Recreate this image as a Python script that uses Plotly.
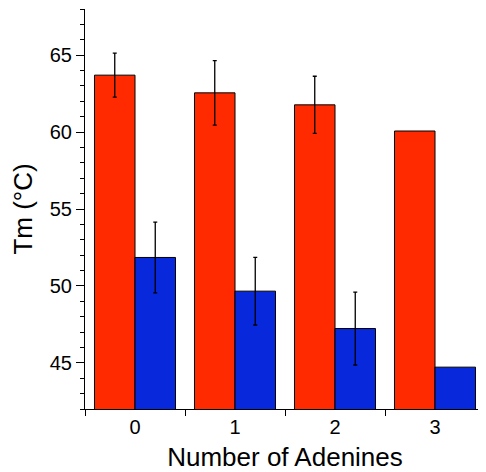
import plotly.graph_objects as go

categories = ["0", "1", "2", "3"]
red_values = [63.7, 62.55, 61.77, 60.07]
blue_values = [51.85, 49.66, 47.23, 44.72]
# error bars exist only for the first three categories
red_errors = [1.43, 2.1, 1.86]
blue_errors = [2.3, 2.2, 2.37]

font_family = "Liberation Sans, Arial, Helvetica, sans-serif"

fig = go.Figure()
fig.add_trace(go.Bar(
    x=categories, y=red_values, name="red",
    marker=dict(color="rgb(255,42,0)", line=dict(color="black", width=1)),
    error_y=dict(type="data", array=red_errors, visible=True,
                 color="black", thickness=1.3, width=2),
))
fig.add_trace(go.Bar(
    x=categories, y=blue_values, name="blue",
    marker=dict(color="rgb(8,40,220)", line=dict(color="black", width=1)),
    error_y=dict(type="data", array=blue_errors, visible=True,
                 color="black", thickness=1.3, width=2),
))

# page body has an 8px margin; size the figure to fill the rest of the window
fig.update_layout(
    width=478, height=464,
    margin=dict(l=77, r=1, t=1, b=63),
    barmode="group", bargap=0.19, bargroupgap=0,
    showlegend=False,
    plot_bgcolor="white", paper_bgcolor="white",
    font=dict(family=font_family, color="black", size=20),
)
fig.update_xaxes(
    type="category", tickson="boundaries", automargin=False,
    ticks="outside", ticklen=6, tickwidth=1, tickcolor="black",
    showline=True, linecolor="black", linewidth=1,
    showgrid=False, zeroline=False,
    tickfont=dict(size=20),
    title=dict(text="Number of Adenines", font=dict(size=26)),
)
fig.update_yaxes(
    range=[42, 68], tick0=45, dtick=5, automargin=False,
    ticks="outside", ticklen=8, tickwidth=1, tickcolor="black",
    minor=dict(dtick=1, ticks="outside", ticklen=4, tickwidth=1, tickcolor="black"),
    showline=True, linecolor="black", linewidth=1,
    showgrid=False, zeroline=False,
    tickfont=dict(size=20),
    title=dict(text="Tm (°C)", font=dict(size=26)),
)

fig.write_html("out.html")
